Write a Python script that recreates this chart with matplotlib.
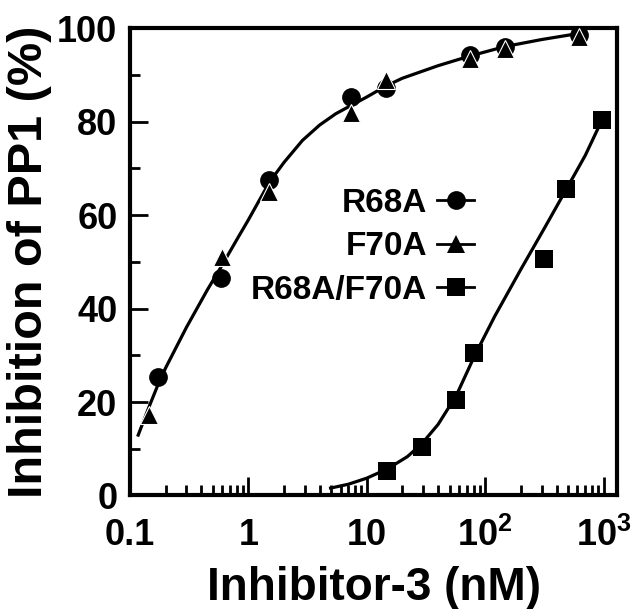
import matplotlib
matplotlib.use("Agg")
import matplotlib.pyplot as plt
from matplotlib.lines import Line2D
from matplotlib.ticker import FixedLocator, FixedFormatter, LogLocator, NullFormatter, MultipleLocator

plt.rcParams['font.family'] = ['Liberation Sans', 'DejaVu Sans']
plt.rcParams['font.weight'] = 'bold'
plt.rcParams['mathtext.fontset'] = 'custom'
plt.rcParams['mathtext.rm'] = 'Liberation Sans:bold'
plt.rcParams['mathtext.bf'] = 'Liberation Sans:bold'
plt.rcParams['mathtext.it'] = 'Liberation Sans:bold'

# ---- data ----
r68a_x = [0.173, 0.583, 1.50, 7.3, 14.4, 74, 146, 617]
r68a_y = [25.4, 46.5, 67.5, 85.4, 87.2, 94.3, 96.1, 98.5]

f70a_x = [0.145, 0.604, 1.50, 7.4, 14.4, 74, 146, 617]
f70a_y = [17.2, 51.1, 65.0, 81.8, 88.9, 93.4, 95.5, 98.2]

dbl_x = [14.9, 29, 57, 81, 316, 483, 970]
dbl_y = [5.3, 10.4, 20.5, 30.4, 50.6, 65.5, 80.4]

# fitted curves
fit1_x = [0.116, 0.145, 0.173, 0.2, 0.3, 0.45, 0.6, 0.8, 1.0, 1.5, 2.0, 2.86, 4.0, 5.46,
          7.5, 10, 14.4, 19.9, 40, 72.6, 147, 300, 617]
fit1_y = [12.6, 19.0, 23.8, 27.3, 36.0, 44.0, 49.3, 54.8, 59.0, 67.0, 71.3, 76.0, 79.3, 81.7,
          83.6, 85.3, 87.6, 89.3, 92.0, 94.0, 96.1, 97.6, 98.9]

fit2_x = [4.8, 7, 10, 15, 22, 29, 40, 57, 81, 120, 200, 316, 483, 700, 970]
fit2_y = [1.5, 2.4, 3.7, 5.7, 8.3, 11.0, 15.2, 21.4, 29.8, 38.3, 48.4, 57.2, 65.5, 72.8, 80.4]

xtick_vals = [0.1, 1, 10, 100, 1000]
xtick_labels = ['0.1', '1', '10', r'$\mathbf{10^2}$', r'$\mathbf{10^3}$']
ytick_vals = [0, 20, 40, 60, 80, 100]
legend_labels = ['R68A', 'F70A', 'R68A/F70A']

fig = plt.figure(figsize=(6.31, 6.09), dpi=100)
ax = fig.add_axes([0.206, 0.1865, 0.772, 0.767])

lw = 2.3
ms = 13.5
ax.plot(fit1_x, fit1_y, color='black', lw=lw, zorder=2, solid_capstyle='butt')
ax.plot(fit2_x, fit2_y, color='black', lw=lw, zorder=2, solid_capstyle='butt')
ax.plot(r68a_x, r68a_y, ls='none', marker='o', ms=ms, color='black', mec='black', mew=0, zorder=3)
ax.plot(f70a_x, f70a_y, ls='none', marker='^', ms=ms, color='black', mec='white', mew=0.8, zorder=4)
ax.plot(dbl_x, dbl_y, ls='none', marker='s', ms=12.5, color='black', mew=0, zorder=3)

ax.set_xscale('log')
ax.set_xlim(0.1, 1300)
ax.set_ylim(0, 100)

ax.xaxis.set_major_locator(FixedLocator(xtick_vals))
ax.xaxis.set_major_formatter(FixedFormatter(xtick_labels))
ax.xaxis.set_minor_locator(LogLocator(base=10, subs=range(2, 10), numticks=20))
ax.xaxis.set_minor_formatter(NullFormatter())
ax.yaxis.set_major_locator(FixedLocator(ytick_vals))
ax.yaxis.set_minor_locator(MultipleLocator(10))

for s in ax.spines.values():
    s.set_linewidth(3)

ax.tick_params(which='both', direction='in', top=False, right=False, width=2)
ax.tick_params(which='major', length=13, labelsize=26, pad=9)
ax.tick_params(axis='x', which='major', pad=16)
ax.tick_params(which='minor', length=7.5)
for lab in ax.get_xticklabels() + ax.get_yticklabels():
    lab.set_fontweight('bold')

ax.set_xlabel('Inhibitor-3 (nM)', fontsize=33, fontweight='bold', labelpad=9)
ax.set_ylabel('Inhibition of PP1 (%)', fontsize=35, fontweight='bold', labelpad=4)

handles = [
    Line2D([], [], color='black', lw=2, marker='o', ms=ms, mew=0),
    Line2D([], [], color='black', lw=2, marker='^', ms=ms, mew=0),
    Line2D([], [], color='black', lw=2, marker='s', ms=12.5, mew=0),
]
leg = ax.legend(handles, legend_labels, loc='center right', bbox_to_anchor=(0.706, 0.532),
                frameon=False, markerfirst=False, handlelength=1.1,
                handletextpad=0.3, labelspacing=0.38, borderpad=0, borderaxespad=0,
                prop={'weight': 'bold', 'size': 24})

fig.savefig('out.png', dpi=100)
